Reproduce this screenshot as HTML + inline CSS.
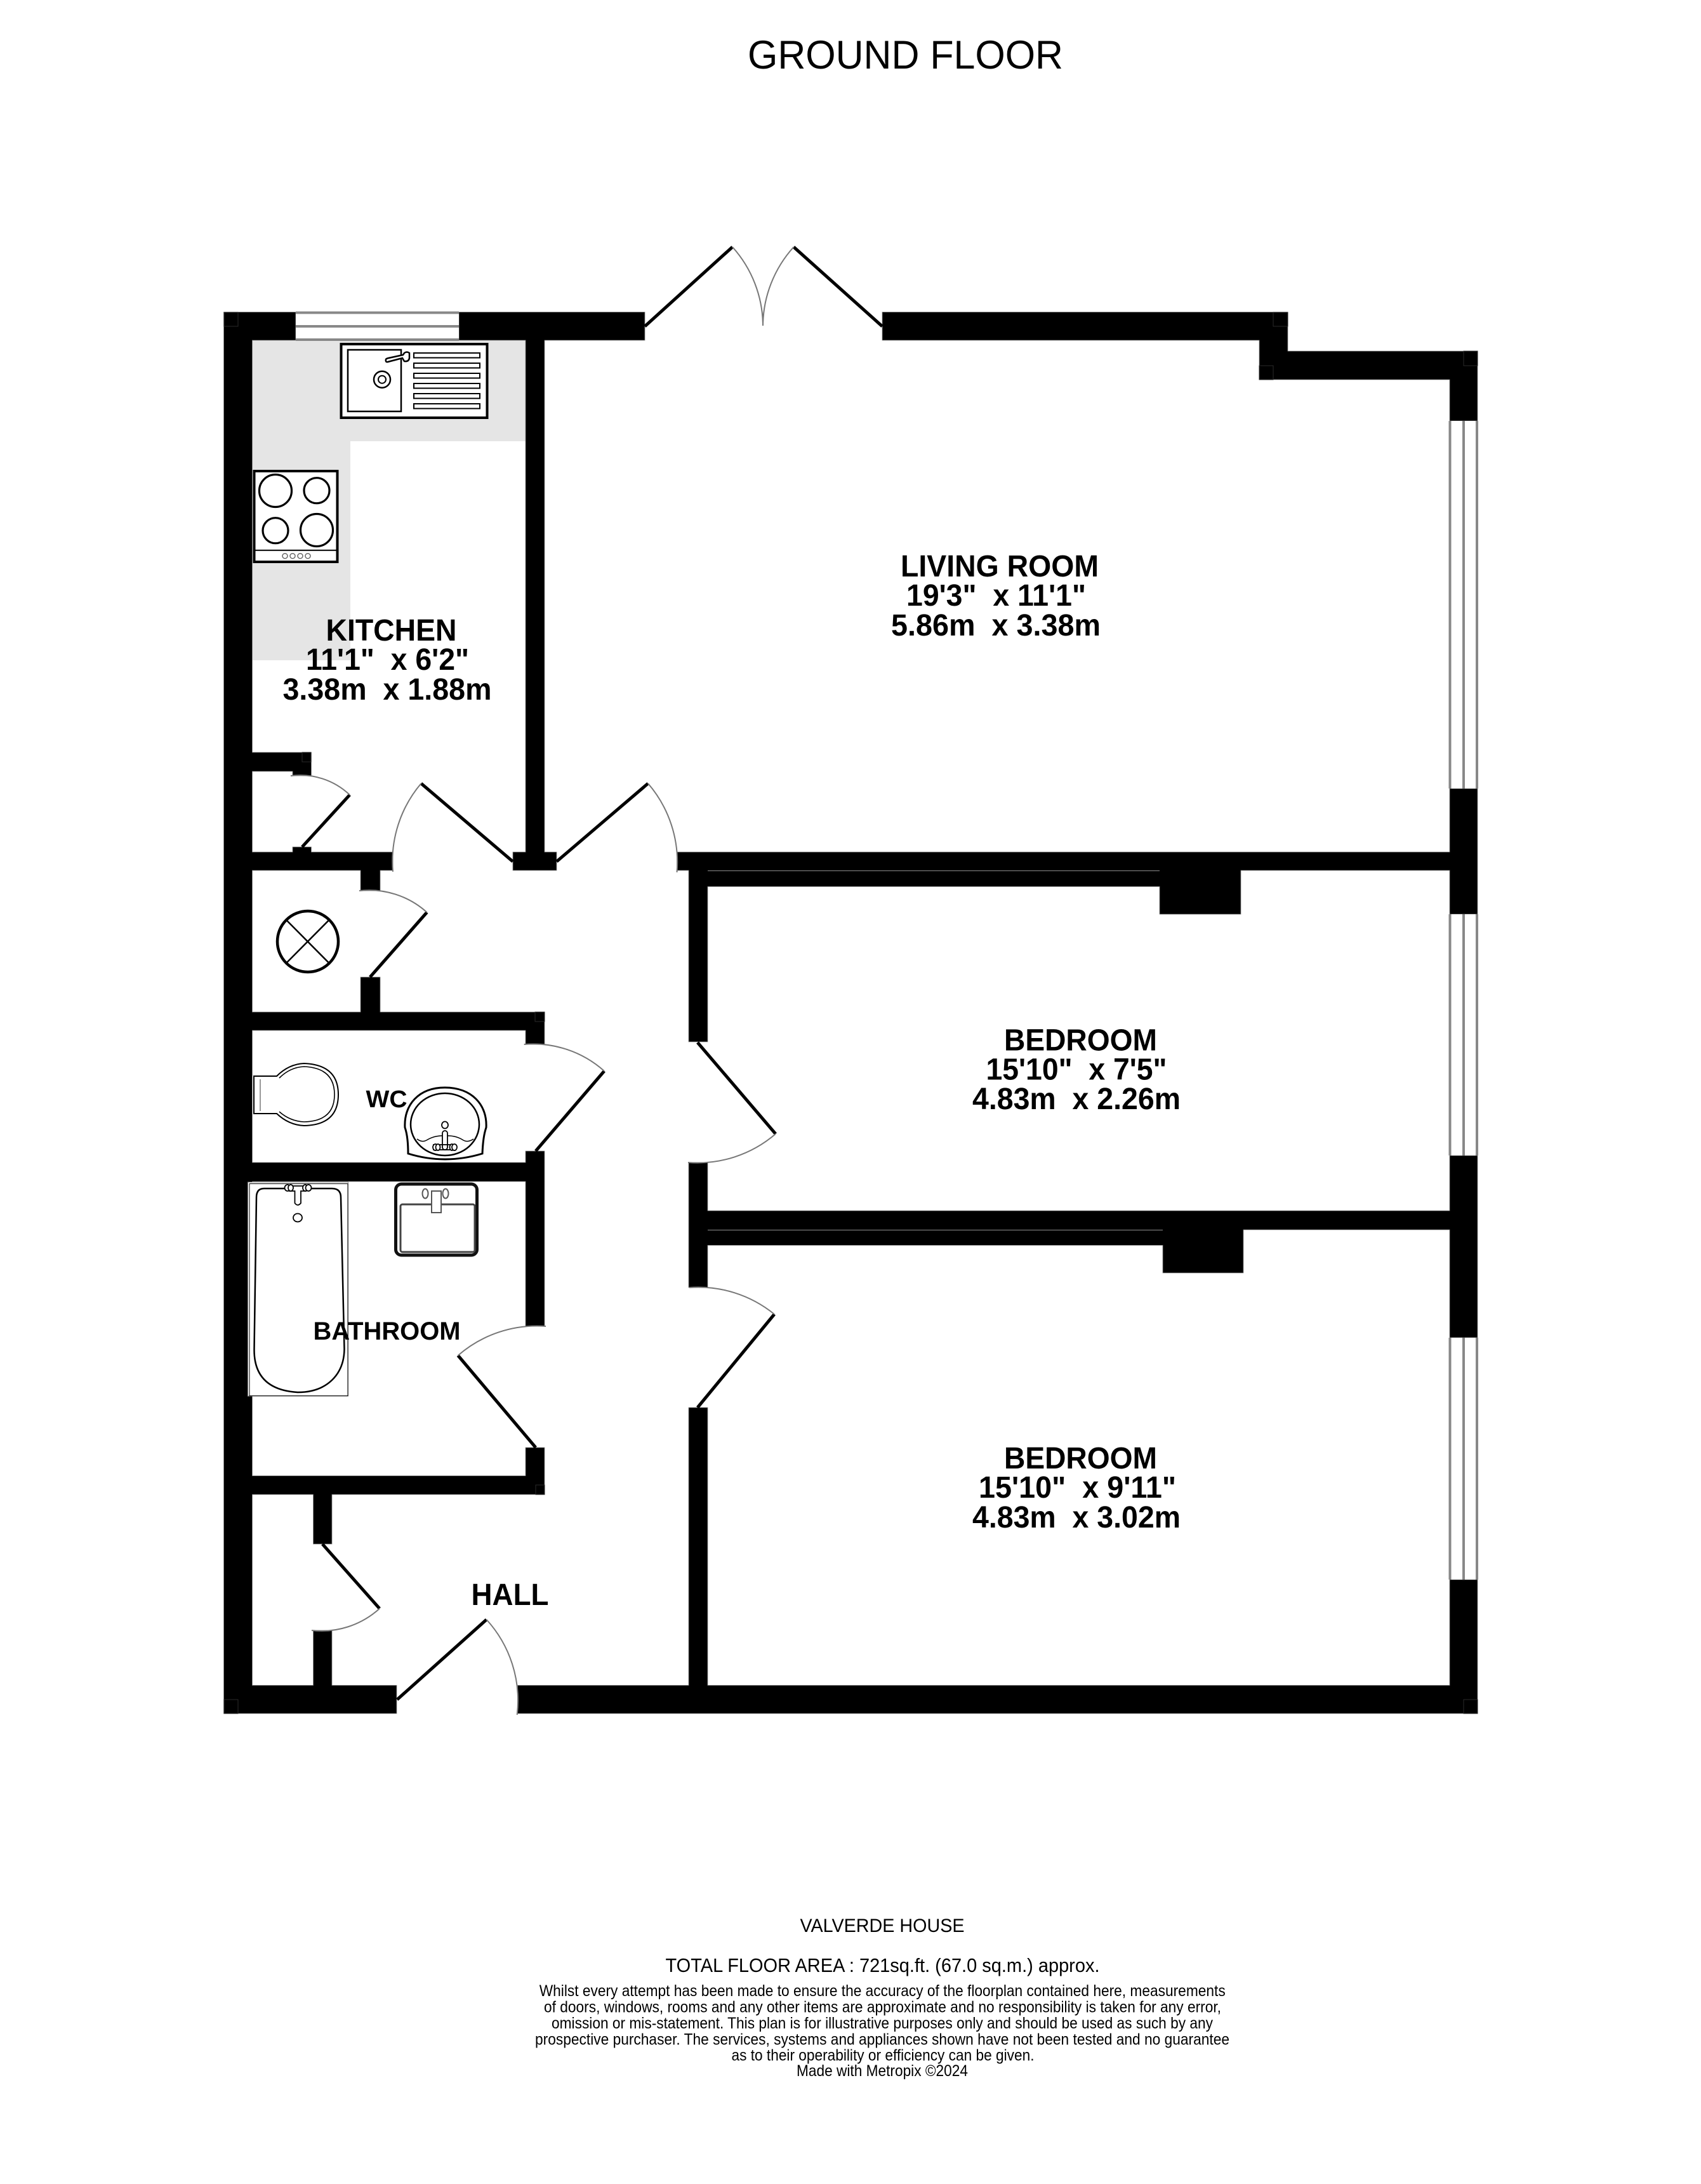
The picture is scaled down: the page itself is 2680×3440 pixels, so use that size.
<!DOCTYPE html>
<html><head><meta charset="utf-8"><title>Ground Floor</title>
<style>html,body{margin:0;padding:0;background:#fff}svg{display:block}
text{font-family:"Liberation Sans",Arial,sans-serif;fill:#000}
.r{font-weight:bold;font-size:48px}
.f{font-size:25px}
.d{stroke:#000;stroke-width:5;fill:none}
.a{stroke:#777;stroke-width:2;fill:none}
.w{stroke:#888;stroke-width:4;fill:none}
.s{stroke:#000;fill:none}
.h{stroke:#2a2a2a;stroke-width:1;fill:none}
</style></head><body>
<svg xmlns="http://www.w3.org/2000/svg" width="2680" height="3440" viewBox="0 0 2680 3440">
<rect width="2680" height="3440" fill="#fff"/>
<!-- counter -->
<path d="M397 536H828V695H552V1040H397Z" fill="#e5e5e5"/>
<!-- walls -->
<g fill="#000" stroke="#8a8a8a" stroke-width="0.8">
<path d="M352.5 491.5H466V536H397.5V1185H490.5V1222H461V1215H397.5V1342H461V1334H490.5V1342H619V1371H599V1403H568V1371H397.5V1594H568V1539H599V1594H858V1645H828V1623H397.5V1831H828V1813H858V2089H828V1861H397.5V2324.5H828V2280H858V2354H523V2432H493.5V2354H397.5V2654.5H493.5V2568H523V2654.5H625V2699H352.5Z"/>
<path d="M723 491.5H1016V536H858V1342H877V1371H808V1342H828V536H723Z"/>
<path d="M1390 491.5H2029V553H2328V663H2284V598H1984V536H1390Z"/>
<path d="M1066.5 1342H2284V1242H2328V1440H2284V1371H1955V1440H1827V1396.5H1115V1641H1085V1371H1066.5Z"/>
<path d="M1085 1831H1115V1907H2284V1820H2328V2107H2284V1937H1959V2005H1832V1961.5H1115V2028H1085Z"/>
<path d="M1085 2217H1115V2654.5H2284V2488H2328V2699H815.5V2654.5H1085Z"/>
</g>
<!-- hairlines between wall layers -->
<path d="M1115 1371.5H1827M1115 1937.5H1832" stroke="#777" stroke-width="1.2" fill="none"/>
<!-- faint corner marks -->
<g class="h">
<rect x="353" y="492" width="22" height="22"/><rect x="2006" y="492" width="23" height="22"/><rect x="1984" y="576" width="22" height="22"/>
<rect x="2306" y="553" width="22" height="23"/><rect x="2306" y="2677" width="22" height="22"/><rect x="353" y="2677" width="22" height="22"/>
<rect x="476" y="1185" width="14" height="15"/><rect x="843" y="1594" width="15" height="15"/><rect x="844" y="2339" width="14" height="15"/>
</g>
<!-- windows -->
<rect x="466" y="491" width="257" height="46" fill="#fff"/>
<path class="w" d="M466 492.5H723M466 514H723M466 535H723"/>
<g fill="#fff"><rect x="2283" y="663" width="45" height="579"/><rect x="2283" y="1440" width="45" height="380"/><rect x="2283" y="2107" width="45" height="381"/></g>
<path class="w" d="M2284.5 663V1242M2306 663V1242M2327 663V1242M2284.5 1440V1820M2306 1440V1820M2327 1440V1820M2284.5 2107V2488M2306 2107V2488M2327 2107V2488"/>
<!-- door leaves -->
<g class="d">
<path d="M551 1252L476 1334"/><path d="M663.5 1234L808 1357"/><path d="M877 1357L1021 1234"/>
<path d="M672.6 1437L583 1539"/><path d="M952 1687L844 1813"/>
<path d="M1099 1642L1222 1786"/><path d="M1099 2217L1220 2070"/>
<path d="M721.6 2135L844 2280"/><path d="M508 2432L598 2533.6"/>
<path d="M625.7 2677L766.5 2551"/><path d="M1016 514L1154 389"/><path d="M1390 514L1250.5 389"/>
</g>
<g class="a">
<path d="M458 1222A113 113 0 0 1 551 1252"/>
<path d="M619 1373A190 190 0 0 1 663.5 1234"/>
<path d="M1021 1234A190 190 0 0 1 1066.5 1374"/>
<path d="M566 1403A136 136 0 0 1 672.6 1437"/>
<path d="M825.7 1645A168 168 0 0 1 952 1687"/>
<path d="M1222 1786A189 189 0 0 1 1084 1831"/>
<path d="M1086 2028A190 190 0 0 1 1220 2070"/>
<path d="M860 2089A190 190 0 0 0 721.6 2135"/>
<path d="M598 2533.6A136 136 0 0 1 491 2568"/>
<path d="M766.5 2551A189 189 0 0 1 814.7 2701"/>
<path d="M1154 389A187 187 0 0 1 1202 513"/>
<path d="M1250.5 389A187 187 0 0 0 1202 513"/>
</g>
<!-- sink -->
<rect x="537.5" y="542" width="230" height="116" fill="#fff" stroke="#000" stroke-width="4"/>
<rect x="548" y="551" width="84" height="97" fill="#fff" stroke="#000" stroke-width="2.5"/>
<circle cx="602" cy="597.7" r="13" fill="#fff" stroke="#000" stroke-width="2.5"/><circle cx="602" cy="597.7" r="6" fill="#fff" stroke="#000" stroke-width="2"/>
<g fill="#fff" stroke="#000" stroke-width="2">
<rect x="652" y="556" width="104" height="7.5"/><rect x="652" y="572" width="104" height="7.5"/><rect x="652" y="588" width="104" height="7.5"/><rect x="652" y="604" width="104" height="7.5"/><rect x="652" y="620" width="104" height="7.5"/><rect x="652" y="636" width="104" height="7.5"/>
</g>
<path d="M608 566Q607 571 611 570L634 564L637 569Q644 570 645 564V556Q641 553 637 556L635 559L612 564Q608 565 608 566Z" fill="#fff" stroke="#000" stroke-width="2.5"/>
<!-- hob -->
<rect x="400.5" y="742" width="131" height="143" fill="#fff" stroke="#000" stroke-width="4"/>
<path d="M400 866.7H532" stroke="#000" stroke-width="2"/>
<g fill="none" stroke="#000" stroke-width="3.2">
<circle cx="434" cy="773" r="25.5"/><circle cx="499" cy="772.7" r="20"/><circle cx="434" cy="835.7" r="20"/><circle cx="499" cy="835" r="25.5"/>
</g>
<g fill="none" stroke="#666" stroke-width="1.5">
<circle cx="449" cy="875.7" r="4"/><circle cx="461" cy="875.7" r="4"/><circle cx="473" cy="875.7" r="4"/><circle cx="485" cy="875.7" r="4"/>
</g>
<!-- extractor -->
<circle cx="485" cy="1483" r="48" fill="#fff" stroke="#000" stroke-width="4.5"/>
<path d="M452 1450L517.5 1516M517.5 1450L452 1516" stroke="#000" stroke-width="2.5"/>
<!-- toilet -->
<path d="M400 1695H436Q455 1676 479 1675Q533 1677 533 1724Q533 1772 479 1773Q455 1772 436 1754H400Z" fill="#fff" stroke="#000" stroke-width="2"/>
<path d="M440 1698Q457 1681 479 1680Q527 1682 527 1724Q527 1766 479 1767Q457 1766 440 1751" fill="none" stroke="#000" stroke-width="1.6"/>
<path d="M410 1700V1750" stroke="#555" stroke-width="1.2"/>
<!-- wc basin -->
<path d="M643 1817Q643 1790 638 1776C636 1740 660 1713 701 1713C743 1713 768 1740 766 1776Q761 1790 760 1817Q701 1835 643 1817Z" fill="#fff" stroke="#000" stroke-width="3"/>
<ellipse cx="701" cy="1771" rx="54" ry="49" fill="#fff" stroke="#000" stroke-width="2.5"/>
<path d="M657 1794Q665 1800 672 1796Q685 1788 701 1789Q718 1788 730 1796Q737 1800 746 1794" fill="none" stroke="#000" stroke-width="1.5"/>
<ellipse cx="701" cy="1772" rx="5" ry="5.5" fill="#fff" stroke="#000" stroke-width="1.8"/>
<rect x="697" y="1781" width="8" height="30" rx="4" fill="#fff" stroke="#000" stroke-width="1.8"/>
<g fill="#fff" stroke="#000" stroke-width="1.8"><rect x="683" y="1803" width="35" height="8" fill="none"/><ellipse cx="686" cy="1807" rx="4" ry="5"/><ellipse cx="690" cy="1807" rx="3.5" ry="5"/><ellipse cx="712" cy="1807" rx="3.5" ry="5"/><ellipse cx="716" cy="1807" rx="4" ry="5"/></g>
<!-- bath -->
<rect x="390.5" y="1862" width="158" height="337" fill="#fff" stroke="#888" stroke-width="1"/>
<rect x="393" y="1864.5" width="155" height="334" fill="none" stroke="#000" stroke-width="1"/>
<path d="M404 1886Q404 1872 416 1872H523Q537 1872 537 1886L542.5 2125C542 2165 515 2193 469 2193C420 2190 400 2165 400.5 2125Z" fill="#fff" stroke="#000" stroke-width="2.5"/>
<g fill="#fff" stroke="#000" stroke-width="1.8">
<path d="M456 1868H482V1876H474V1895Q469 1901 464.5 1895V1876H456Z"/>
<ellipse cx="453" cy="1871" rx="4.5" ry="5"/><ellipse cx="458" cy="1871" rx="4" ry="5"/><ellipse cx="481" cy="1871" rx="4" ry="5"/><ellipse cx="486" cy="1871" rx="4.5" ry="5"/>
<ellipse cx="469" cy="1918" rx="7" ry="6.5"/>
</g>
<!-- bathroom basin -->
<rect x="623.5" y="1865" width="128" height="112" rx="9" fill="#fff" stroke="#111" stroke-width="5"/>
<rect x="631" y="1897" width="117" height="75" rx="3" fill="#fff" stroke="#444" stroke-width="3"/>
<g fill="#fff" stroke="#555" stroke-width="2"><rect x="680" y="1876" width="15" height="34"/><ellipse cx="670" cy="1880" rx="4.5" ry="7.5"/><ellipse cx="702" cy="1880" rx="4.5" ry="7.5"/></g>
<!-- labels -->
<text x="1178" y="108" font-size="63" textLength="497" lengthAdjust="spacingAndGlyphs">GROUND FLOOR</text>
<g class="r">
<text x="1419" y="908" textLength="312" lengthAdjust="spacingAndGlyphs">LIVING ROOM</text>
<text x="1428" y="954" textLength="283" lengthAdjust="spacingAndGlyphs" xml:space="preserve">19'3"  x 11'1"</text>
<text x="1404" y="1001" textLength="330" lengthAdjust="spacingAndGlyphs" xml:space="preserve">5.86m  x 3.38m</text>
<text x="513.5" y="1009" textLength="206" lengthAdjust="spacingAndGlyphs">KITCHEN</text>
<text x="482" y="1055" textLength="257" lengthAdjust="spacingAndGlyphs" xml:space="preserve">11'1"  x 6'2"</text>
<text x="445.5" y="1102" textLength="329" lengthAdjust="spacingAndGlyphs" xml:space="preserve">3.38m  x 1.88m</text>
<text x="1582" y="1654.5" textLength="241" lengthAdjust="spacingAndGlyphs">BEDROOM</text>
<text x="1553.5" y="1700.5" textLength="285" lengthAdjust="spacingAndGlyphs" xml:space="preserve">15'10"  x 7'5"</text>
<text x="1532" y="1747" textLength="328" lengthAdjust="spacingAndGlyphs" xml:space="preserve">4.83m  x 2.26m</text>
<text x="1582" y="2313" textLength="241" lengthAdjust="spacingAndGlyphs">BEDROOM</text>
<text x="1542" y="2359" textLength="311" lengthAdjust="spacingAndGlyphs" xml:space="preserve">15'10"  x 9'11"</text>
<text x="1532" y="2406" textLength="328" lengthAdjust="spacingAndGlyphs" xml:space="preserve">4.83m  x 3.02m</text>
<text x="742.5" y="2528" textLength="122" lengthAdjust="spacingAndGlyphs">HALL</text>
</g>
<text x="576.5" y="1744" font-size="38" font-weight="bold" textLength="65" lengthAdjust="spacingAndGlyphs">WC</text>
<text x="493.5" y="2110" font-size="40" font-weight="bold" textLength="232" lengthAdjust="spacingAndGlyphs">BATHROOM</text>
<!-- footer -->
<text x="1260.5" y="3043" font-size="30" textLength="259" lengthAdjust="spacingAndGlyphs">VALVERDE HOUSE</text>
<text x="1048.5" y="3106" font-size="31" textLength="684" lengthAdjust="spacingAndGlyphs">TOTAL FLOOR AREA : 721sq.ft. (67.0 sq.m.) approx.</text>
<g class="f">
<text x="849.7" y="3144" textLength="1081" lengthAdjust="spacingAndGlyphs">Whilst every attempt has been made to ensure the accuracy of the floorplan contained here, measurements</text>
<text x="857" y="3169.7" textLength="1067" lengthAdjust="spacingAndGlyphs">of doors, windows, rooms and any other items are approximate and no responsibility is taken for any error,</text>
<text x="869" y="3195" textLength="1042" lengthAdjust="spacingAndGlyphs">omission or mis-statement. This plan is for illustrative purposes only and should be used as such by any</text>
<text x="843" y="3220.5" textLength="1094" lengthAdjust="spacingAndGlyphs">prospective purchaser. The services, systems and appliances shown have not been tested and no guarantee</text>
<text x="1152.5" y="3245.7" textLength="477" lengthAdjust="spacingAndGlyphs">as to their operability or efficiency can be given.</text>
<text x="1255" y="3270" textLength="270" lengthAdjust="spacingAndGlyphs">Made with Metropix ©2024</text>
</g>
</svg>
</body></html>
